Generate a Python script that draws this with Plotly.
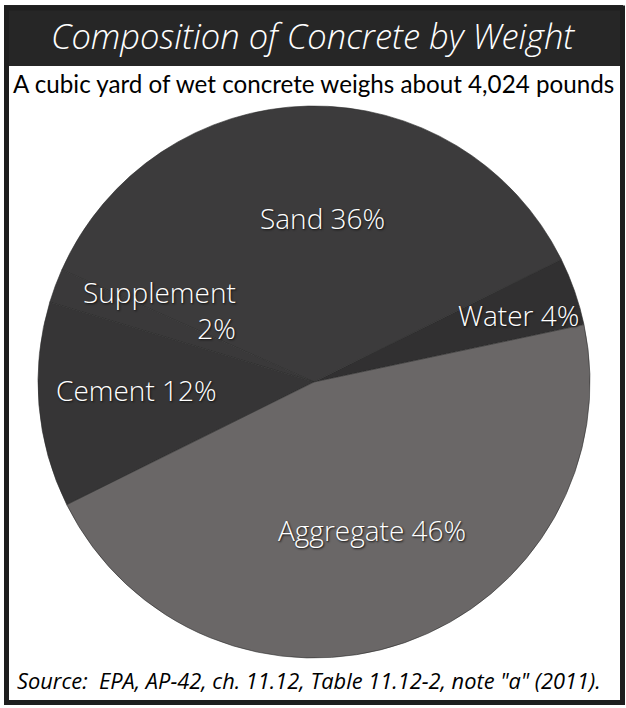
import plotly.graph_objects as go

# ---- data ----
labels = ["Water", "Sand", "Supplement", "Cement", "Aggregate"]
values = [4, 36, 2, 12, 46]
title_text = "Composition of Concrete by Weight"
subtitle_text = "A cubic yard of wet concrete weighs about 4,024 pounds"
source_text = 'Source:  EPA, AP-42, ch. 11.12, Table 11.12-2, note "a" (2011).'

# ---- styles ----
W, H = 626, 708
slice_colors = ["#313031", "#3c3b3c", "#3a393a", "#363536", "#6a6767"]
FONT = "Open Sans"
SUB_FONT = "Lato"

def px(x):
    return x / W

def py(y):
    return 1 - y / H

fig = go.Figure()
fig.add_trace(go.Pie(
    labels=labels,
    values=values,
    sort=False,
    direction="counterclockwise",
    rotation=63.6,
    marker=dict(colors=slice_colors, line=dict(width=0.6, color="#2c2b2c")),
    textinfo="none",
    hoverinfo="label+percent",
    showlegend=False,
    domain=dict(x=[px(38), px(590)], y=[py(658), py(106)]),
))

# slice label placement (text positions in pixels, anchor)
label_pos = {
    "Sand": (322, 218, "center"),
    "Supplement": (238, 310, "right"),
    "Water": (581, 315, "right"),
    "Cement": (219, 390, "right"),
    "Aggregate": (372, 530, "center"),
}
annotations = []
for lab, val in zip(labels, values):
    x, y, anchor = label_pos[lab]
    txt = f"{lab}<br>{val}%" if lab == "Supplement" else f"{lab} {val}%"
    annotations.append(dict(
        x=px(x), y=py(y), xref="paper", yref="paper",
        text=txt, showarrow=False, xanchor=anchor, yanchor="middle",
        align="right" if anchor == "right" else "center",
        font=dict(family=FONT, size=28, color="white", weight=300,
                  shadow="1px 1px 2px #111"),
    ))

annotations.append(dict(
    x=0.5, y=py(36), xref="paper", yref="paper", text=f"<i>{title_text}</i>",
    showarrow=False, xanchor="center", yanchor="middle",
    font=dict(family=FONT, size=34.5, color="white", weight=300),
))
annotations.append(dict(
    x=0.5, y=py(83), xref="paper", yref="paper", text=subtitle_text,
    showarrow=False, xanchor="center", yanchor="middle",
    font=dict(family=SUB_FONT, size=24.2, color="black"),
))
annotations.append(dict(
    x=px(15), y=py(680), xref="paper", yref="paper", text=f"<i>{source_text}</i>",
    showarrow=False, xanchor="left", yanchor="middle",
    font=dict(family=FONT, size=21.8, color="black"),
))

shapes = [
    dict(type="rect", xref="paper", yref="paper",
         x0=px(6.5), x1=px(622.5), y0=py(702.5), y1=py(8),
         line=dict(color="#1e1e1e", width=5), fillcolor="rgba(0,0,0,0)", layer="above"),
    dict(type="rect", xref="paper", yref="paper",
         x0=px(4), x1=px(623), y0=py(66), y1=py(5),
         line=dict(width=0), fillcolor="#262626", layer="below"),
]

fig.update_layout(
    width=W, height=H,
    margin=dict(l=0, r=0, t=0, b=0),
    paper_bgcolor="white", plot_bgcolor="white",
    annotations=annotations, shapes=shapes,
)
fig.write_html("out.html")
